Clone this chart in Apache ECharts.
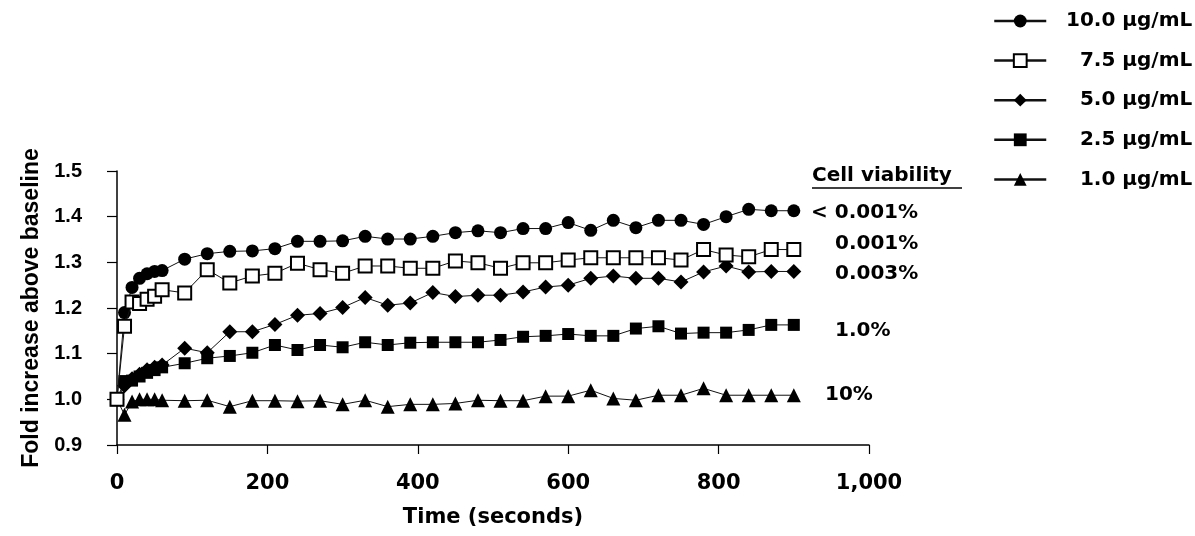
<!DOCTYPE html>
<html>
<head>
<meta charset="utf-8">
<script src="https://cdn.jsdelivr.net/npm/echarts@6/dist/echarts.min.js"></script>
<style>
    html, body { margin: 0; padding: 0; background: #fff; }
    #chart { width: 1195px; height: 536px; }
</style>
</head>
<body>
<div id="chart"></div>
<script>
// time points (seconds)
var times = [0, 10, 20, 30, 40, 50, 60, 90, 120, 150, 180, 210, 240, 270, 300, 330, 360, 390,
    420, 450, 480, 510, 540, 570, 600, 630, 660, 690, 720, 750, 780, 810, 840, 870, 900];

// fold increase above baseline, one array per concentration
var conc100 = [1.0, 1.19, 1.245, 1.265, 1.275, 1.28, 1.282, 1.307, 1.319, 1.324, 1.325, 1.33, 1.346, 1.346,
    1.347, 1.357, 1.351, 1.351, 1.357, 1.365, 1.369, 1.365, 1.374, 1.374, 1.387, 1.37, 1.392, 1.376,
    1.392, 1.392, 1.383, 1.40, 1.416, 1.413, 1.413];
var conc75 = [1.0, 1.16, 1.213, 1.21, 1.219, 1.226, 1.24, 1.233, 1.284, 1.255, 1.27, 1.276, 1.298, 1.284,
    1.276, 1.292, 1.292, 1.287, 1.287, 1.303, 1.299, 1.287, 1.299, 1.299, 1.305, 1.31, 1.31, 1.31,
    1.31, 1.305, 1.328, 1.316, 1.312, 1.328, 1.328];
var conc50 = [1.0, 1.03, 1.045, 1.055, 1.065, 1.07, 1.075, 1.112, 1.102, 1.148, 1.148, 1.164, 1.184, 1.188,
    1.201, 1.223, 1.206, 1.211, 1.234, 1.225, 1.228, 1.228, 1.235, 1.246, 1.25, 1.265, 1.27, 1.265,
    1.265, 1.257, 1.279, 1.292, 1.279, 1.28, 1.28];
var conc25 = [1.0, 1.04, 1.041, 1.05, 1.058, 1.064, 1.07, 1.079, 1.09, 1.095, 1.102, 1.119, 1.108, 1.119,
    1.114, 1.125, 1.119, 1.124, 1.125, 1.125, 1.125, 1.13, 1.137, 1.139, 1.143, 1.139, 1.139, 1.155,
    1.16, 1.144, 1.146, 1.146, 1.152, 1.163, 1.163];
var conc10 = [1.0, 0.966, 0.995, 1.0, 1.0, 1.0, 0.998, 0.997, 0.998, 0.984, 0.997, 0.997, 0.996, 0.997,
    0.989, 0.998, 0.984, 0.989, 0.989, 0.991, 0.998, 0.997, 0.997, 1.007, 1.007, 1.02, 1.002, 0.998,
    1.009, 1.009, 1.024, 1.009, 1.009, 1.009, 1.009];

var seriesNames = ['10.0 µg/mL', '7.5 µg/mL', '5.0 µg/mL', '2.5 µg/mL', '1.0 µg/mL'];
var viabilityTitle = 'Cell viability';
var viabilityLabels = ['< 0.001%', '0.001%', '0.003%', '1.0%', '10%'];

var boldSans = '"Liberation Sans", Arial, sans-serif';
var wideSans = '"DejaVu Sans", sans-serif';

function pairs(values) {
    return times.map(function (t, i) { return [t, values[i]]; });
}

function lineSeries(name, values, symbol, size, fill, z) {
    return {
        name: name,
        type: 'line',
        data: pairs(values),
        symbol: symbol,
        symbolSize: size,
        showSymbol: true,
        z: z,
        lineStyle: { color: '#111', width: 1 },
        itemStyle: { color: fill, borderColor: '#000', borderWidth: fill === '#fff' ? 2 : 0, opacity: 1 },
        emphasis: { disabled: true },
        animation: false
    };
}

// viability annotations (text positions only)
var labelPos = [[811, 213], [835, 244], [835, 274], [835, 331], [825, 395]];
var graphics = [
    {
        type: 'text', left: 812, top: 166,
        style: { text: viabilityTitle, fontFamily: wideSans, fontWeight: 'bold', fontSize: 20, fill: '#000' }
    },
    {
        type: 'line', shape: { x1: 812, y1: 188, x2: 962, y2: 188 },
        style: { stroke: '#000', lineWidth: 1.5 }
    }
];
viabilityLabels.forEach(function (txt, i) {
    graphics.push({
        type: 'text', x: labelPos[i][0], y: labelPos[i][1],
        style: { text: txt, fontFamily: wideSans, fontWeight: 'bold', fontSize: 20, fill: '#000',
            verticalAlign: 'middle' }
    });
});

var option = {
    animation: false,
    backgroundColor: '#fff',
    grid: { left: 117, right: 326, top: 171, bottom: 91, containLabel: false },
    legend: {
        orient: 'vertical',
        left: 993,
        top: 11,
        padding: 0,
        itemWidth: 52,
        itemHeight: 16,
        itemGap: 19.6,
        data: seriesNames,
        lineStyle: { width: 2.5 },
        formatter: function (name) { return '{t|' + name + '}'; },
        textStyle: {
            rich: {
                t: { width: 141, align: 'right', fontFamily: wideSans, fontWeight: 'bold',
                    fontSize: 20, lineHeight: 20, color: '#000' }
            }
        }
    },
    xAxis: {
        type: 'value',
        min: 0,
        max: 1000,
        interval: 200,
        name: 'Time (seconds)',
        nameLocation: 'middle',
        nameGap: 62,
        nameTextStyle: { fontFamily: wideSans, fontWeight: 'bold', fontSize: 21, color: '#000' },
        axisLine: { lineStyle: { color: '#000', width: 1.5 } },
        axisTick: { show: true, length: 9, lineStyle: { color: '#000', width: 1.2 } },
        axisLabel: {
            margin: 28,
            fontFamily: wideSans, fontWeight: 'bold', fontSize: 21, color: '#000',
            formatter: function (v) { return v.toLocaleString('en-US'); }
        },
        splitLine: { show: false }
    },
    yAxis: {
        type: 'value',
        min: 0.9,
        max: 1.5,
        interval: 0.1,
        name: 'Fold increase above baseline',
        nameLocation: 'middle',
        nameGap: 72,
        nameTextStyle: { fontFamily: boldSans, fontWeight: 'bold', fontSize: 23, color: '#000' },
        axisLine: { show: true, lineStyle: { color: '#000', width: 1.5 } },
        axisTick: { show: true, length: 10, lineStyle: { color: '#000', width: 1.2 } },
        axisLabel: {
            margin: 35,
            fontFamily: boldSans, fontWeight: 'bold', fontSize: 20, color: '#000',
            formatter: function (v) { return v.toFixed(1); }
        },
        splitLine: { show: false }
    },
    graphic: graphics,
    series: [
        lineSeries(seriesNames[0], conc100, 'circle', 13, '#000', 2),
        lineSeries(seriesNames[1], conc75, 'rect', 13, '#fff', 4),
        lineSeries(seriesNames[2], conc50, 'diamond', 15, '#000', 2),
        lineSeries(seriesNames[3], conc25, 'rect', 12, '#000', 2),
        lineSeries(seriesNames[4], conc10, 'triangle', 14, '#000', 2)
    ]
};

var myChart = echarts.init(document.getElementById('chart'));
myChart.setOption(option);
</script>
</body>
</html>
